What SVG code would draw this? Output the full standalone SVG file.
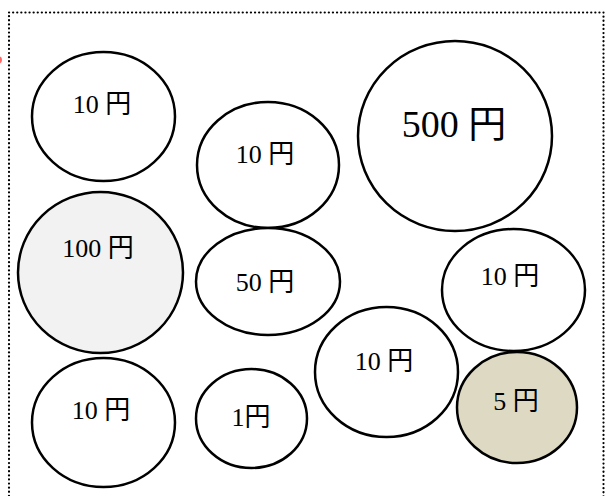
<svg xmlns="http://www.w3.org/2000/svg" width="605" height="496" viewBox="0 0 605 496">
<style>
.coin{fill:#ffffff;stroke:#000000;stroke-width:2.5}
.t{font-family:"Liberation Serif","Noto Sans CJK JP",serif;font-size:26px;fill:#000000;text-anchor:middle}
.big{font-size:38px}
</style>
<rect width="605" height="496" fill="#ffffff"/>
<rect x="9" y="12.5" width="594.5" height="500" fill="none" stroke="#000000" stroke-width="2.2" stroke-linecap="round" stroke-dasharray="0.1 4"/>
<ellipse cx="-1" cy="60" rx="3" ry="3.5" fill="#ff4040" opacity="0.8"/>
<g id="connectors"></g>
<g id="c10a"><ellipse class="coin" cx="103.5" cy="116.5" rx="71.5" ry="64.5"/><text class="t" x="102" y="113">10 円</text></g>
<g id="c10b"><ellipse class="coin" cx="268" cy="165" rx="71" ry="63"/><text class="t" x="265" y="163">10 円</text></g>
<g id="c500"><ellipse class="coin" cx="455" cy="136" rx="97" ry="95"/><text class="t big" x="454" y="137">500 円</text></g>
<g id="c100"><ellipse class="coin" style="fill:#f2f2f2" cx="100.5" cy="272.5" rx="82.5" ry="80.5"/><text class="t" x="98" y="257">100 円</text></g>
<g id="c50"><ellipse class="coin" cx="268" cy="281.5" rx="72" ry="53.5"/><text class="t" x="265" y="291">50 円</text></g>
<g id="c10c"><ellipse class="coin" cx="513.5" cy="290" rx="71.5" ry="61"/><text class="t" x="510" y="285">10 円</text></g>
<g id="c10d"><ellipse class="coin" cx="386.5" cy="372" rx="71.5" ry="65"/><text class="t" x="384" y="370">10 円</text></g>
<g id="c5"><ellipse class="coin" style="fill:#ddd9c3" cx="517" cy="407.5" rx="60" ry="55.5"/><text class="t" x="516" y="410">5 円</text></g>
<g id="c10e"><ellipse class="coin" cx="103.5" cy="422.5" rx="71.5" ry="64.5"/><text class="t" x="101" y="419">10 円</text></g>
<g id="c1"><ellipse class="coin" cx="251.5" cy="418.5" rx="55.5" ry="49.5"/><text class="t" x="251" y="426">1円</text></g>
</svg>
